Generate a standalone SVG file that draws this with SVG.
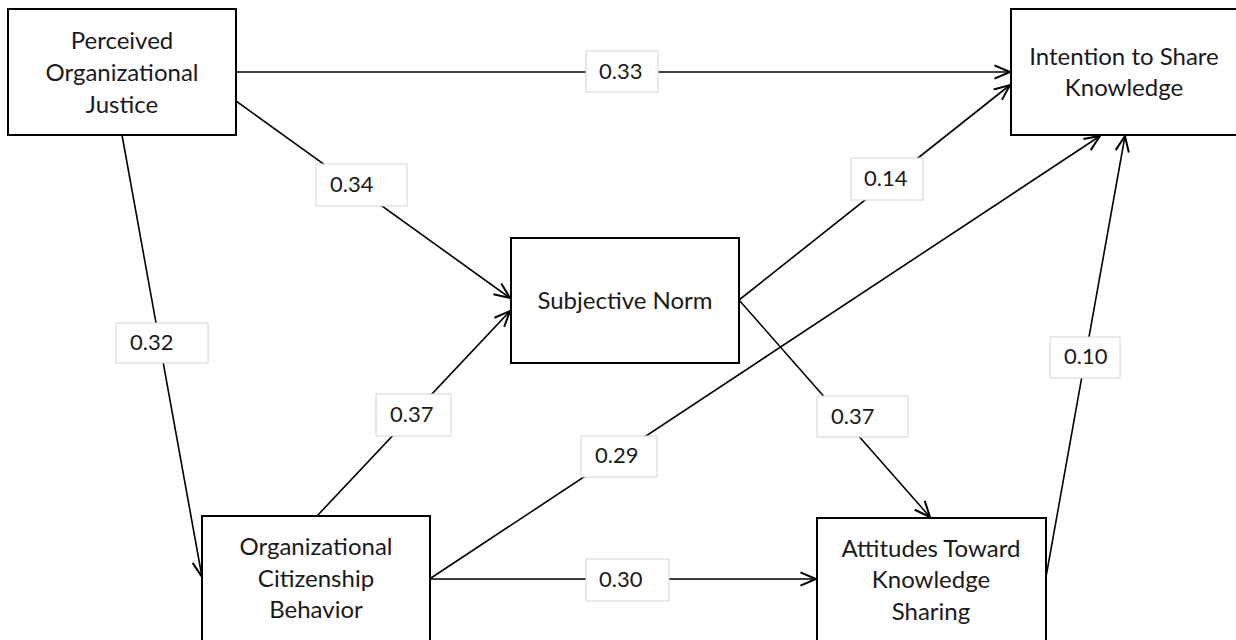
<svg xmlns="http://www.w3.org/2000/svg" width="1236" height="640" viewBox="0 0 1236 640">
  <style>
    .node rect { fill: #fff; stroke: #000; stroke-width: 2; }
    .node text { font-family: Lato, "Open Sans", sans-serif; font-size: 24px; fill: #1a1a1a; text-anchor: middle; }
    .conn line { stroke: #000; stroke-width: 1.6; fill: none; }
    .lbl rect { fill: #fff; stroke: #d4d4d4; stroke-width: 1; }
    .lbl text { font-family: Lato, "Open Sans", sans-serif; font-size: 22px; fill: #1a1a1a; }
  </style>
  <defs>
    <marker id="arr" markerUnits="userSpaceOnUse" markerWidth="20" markerHeight="20" viewBox="-16 -8 18 16" refX="0" refY="0" orient="auto">
      <path d="M-14,-6 L0,0 L-14,6" fill="none" stroke="#000" stroke-width="1.8"/>
    </marker>
  </defs>
  <rect width="1236" height="640" fill="#fff"/>

  <g id="connectors" class="conn">
    <line x1="236" y1="72" x2="1010" y2="72" marker-end="url(#arr)"/>
    <line x1="236" y1="101" x2="510" y2="298" marker-end="url(#arr)"/>
    <line x1="122" y1="135" x2="202" y2="577" marker-end="url(#arr)"/>
    <line x1="317" y1="516" x2="510" y2="311" marker-end="url(#arr)"/>
    <line x1="431" y1="578" x2="1100" y2="136" marker-end="url(#arr)"/>
    <line x1="431" y1="579" x2="816" y2="579" marker-end="url(#arr)"/>
    <line x1="739" y1="300" x2="1010" y2="85" marker-end="url(#arr)"/>
    <line x1="739" y1="300" x2="930" y2="517" marker-end="url(#arr)"/>
    <line x1="1046" y1="577" x2="1125" y2="136" marker-end="url(#arr)"/>
  </g>

  <g id="labels">
    <g class="lbl" id="l-033"><rect x="586" y="51" width="72" height="41"/><text x="599" y="79">0.33</text></g>
    <g class="lbl" id="l-034"><rect x="316" y="164" width="91" height="42"/><text x="330" y="192">0.34</text></g>
    <g class="lbl" id="l-014"><rect x="851" y="158" width="72" height="42"/><text x="864" y="186">0.14</text></g>
    <g class="lbl" id="l-032"><rect x="116" y="323" width="92" height="40"/><text x="130" y="350">0.32</text></g>
    <g class="lbl" id="l-037a"><rect x="376" y="394" width="75" height="42"/><text x="390" y="422">0.37</text></g>
    <g class="lbl" id="l-029"><rect x="581" y="436" width="76" height="41"/><text x="595" y="463">0.29</text></g>
    <g class="lbl" id="l-030"><rect x="586" y="559" width="83" height="42"/><text x="599" y="587">0.30</text></g>
    <g class="lbl" id="l-037b"><rect x="817" y="396" width="91" height="41"/><text x="831" y="424">0.37</text></g>
    <g class="lbl" id="l-010"><rect x="1050" y="337" width="70" height="41"/><text x="1064" y="364">0.10</text></g>
  </g>

  <g id="poj" class="node">
    <rect x="8" y="9" width="228" height="126"/>
    <text x="122" y="49">Perceived</text>
    <text x="122" y="81">Organizational</text>
    <text x="122" y="113">Justice</text>
  </g>
  <g id="isk" class="node">
    <rect x="1011" y="9" width="226" height="126"/>
    <text x="1124" y="65">Intention to Share</text>
    <text x="1124" y="96">Knowledge</text>
  </g>
  <g id="sn" class="node">
    <rect x="511" y="238" width="228" height="125"/>
    <text x="625" y="309">Subjective Norm</text>
  </g>
  <g id="ocb" class="node">
    <rect x="202" y="516" width="228" height="130"/>
    <text x="316" y="555">Organizational</text>
    <text x="316" y="587">Citizenship</text>
    <text x="316" y="618">Behavior</text>
  </g>
  <g id="atks" class="node">
    <rect x="817" y="518" width="229" height="128"/>
    <text x="931" y="557">Attitudes Toward</text>
    <text x="931" y="588">Knowledge</text>
    <text x="931" y="620">Sharing</text>
  </g>
</svg>
